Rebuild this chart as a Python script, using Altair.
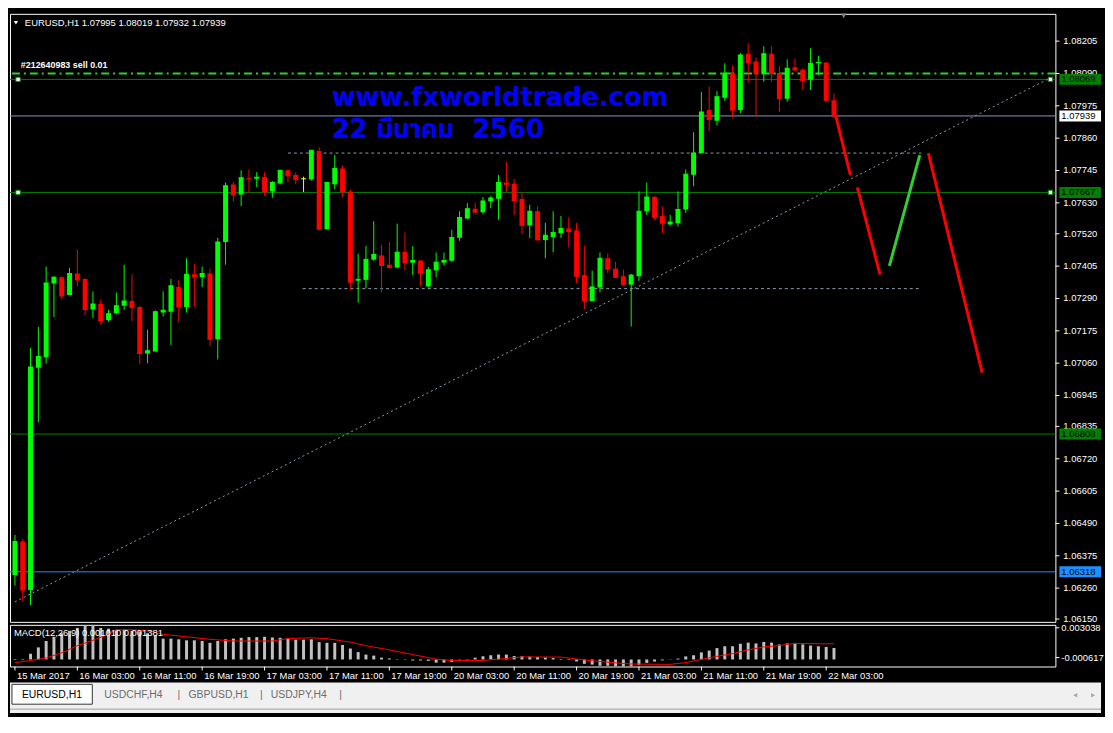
import altair as alt
import pandas as pd

# ---------------- data ----------------
time_labels = ["15 Mar 2017", "16 Mar 03:00", "16 Mar 11:00", "16 Mar 19:00",
               "17 Mar 03:00", "17 Mar 11:00", "17 Mar 19:00", "20 Mar 03:00",
               "20 Mar 11:00", "20 Mar 19:00", "21 Mar 03:00", "21 Mar 11:00",
               "21 Mar 19:00", "22 Mar 03:00"]
time_ticks = [0, 8, 16, 24, 32, 40, 48, 56, 64, 72, 80, 88, 96, 104]

price_ticks = [1.08205, 1.08090, 1.07975, 1.07860, 1.07745, 1.07630, 1.07520,
               1.07405, 1.07290, 1.07175, 1.07060, 1.06945, 1.06835, 1.06720,
               1.06605, 1.06490, 1.06375, 1.06260, 1.06150]

opens = [1.06307, 1.06426, 1.06253, 1.07044, 1.07081, 1.07343, 1.07365, 1.07302, 1.07379, 1.07359,
         1.07251, 1.07270, 1.07213, 1.07237, 1.07264, 1.07281, 1.07260, 1.07094, 1.07101, 1.07240,
         1.07243, 1.07331, 1.07260, 1.07376, 1.07365, 1.07379, 1.07145, 1.07491, 1.07695, 1.07660,
         1.07717, 1.07716, 1.07722, 1.07671, 1.07699, 1.07746, 1.07729, 1.07716, 1.07713, 1.07814,
         1.07536, 1.07696, 1.07752, 1.07670, 1.07353, 1.07356, 1.07428, 1.07443, 1.07410, 1.07400,
         1.07456, 1.07417, 1.07425, 1.07333, 1.07390, 1.07417, 1.07424, 1.07506, 1.07574, 1.07609,
         1.07597, 1.07635, 1.07645, 1.07702, 1.07698, 1.07644, 1.07549, 1.07600, 1.07498, 1.07508,
         1.07522, 1.07539, 1.07532, 1.07373, 1.07281, 1.07329, 1.07433, 1.07396, 1.07369, 1.07339,
         1.07369, 1.07600, 1.07651, 1.07583, 1.07553, 1.07557, 1.07606, 1.07730, 1.07807, 1.07960,
         1.07922, 1.08004, 1.08092, 1.07960, 1.08160, 1.08133, 1.08089, 1.08160, 1.08092, 1.08000,
         1.08112, 1.08102, 1.08068, 1.08126, 1.08129, 1.07995]
highs = [1.06449, 1.06435, 1.07114, 1.07189, 1.07403, 1.07369, 1.07369, 1.07399, 1.07464, 1.07362,
         1.07315, 1.07286, 1.07250, 1.07311, 1.07410, 1.07376, 1.07264, 1.07179, 1.07247, 1.07315,
         1.07359, 1.07355, 1.07433, 1.07413, 1.07403, 1.07396, 1.07505, 1.07702, 1.07705, 1.07746,
         1.07749, 1.07739, 1.07739, 1.07708, 1.07746, 1.07749, 1.07739, 1.07723, 1.07817, 1.07827,
         1.07702, 1.07800, 1.07763, 1.07677, 1.07449, 1.07477, 1.07565, 1.07481, 1.07491, 1.07556,
         1.07525, 1.07476, 1.07425, 1.07402, 1.07453, 1.07453, 1.07534, 1.07600, 1.07629, 1.07629,
         1.07651, 1.07654, 1.07729, 1.07776, 1.07715, 1.07668, 1.07623, 1.07617, 1.07559, 1.07600,
         1.07583, 1.07579, 1.07559, 1.07477, 1.07389, 1.07454, 1.07450, 1.07420, 1.07393, 1.07377,
         1.07671, 1.07702, 1.07654, 1.07617, 1.07587, 1.07671, 1.07749, 1.07881, 1.08024, 1.08044,
         1.08027, 1.08126, 1.08119, 1.08163, 1.08197, 1.08146, 1.08187, 1.08187, 1.08116, 1.08140,
         1.08143, 1.08109, 1.08180, 1.08153, 1.08129, 1.08019]
lows = [1.06269, 1.06211, 1.06200, 1.06850, 1.07058, 1.07224, 1.07288, 1.07302, 1.07333, 1.07231,
        1.07220, 1.07197, 1.07207, 1.07234, 1.07250, 1.07209, 1.07057, 1.07060, 1.07101, 1.07226,
        1.07124, 1.07206, 1.07240, 1.07260, 1.07331, 1.07121, 1.07073, 1.07410, 1.07635, 1.07618,
        1.07665, 1.07686, 1.07655, 1.07648, 1.07696, 1.07703, 1.07696, 1.07669, 1.07709, 1.07536,
        1.07536, 1.07679, 1.07652, 1.07319, 1.07275, 1.07326, 1.07424, 1.07312, 1.07397, 1.07397,
        1.07390, 1.07373, 1.07333, 1.07329, 1.07366, 1.07407, 1.07421, 1.07495, 1.07571, 1.07594,
        1.07590, 1.07611, 1.07570, 1.07668, 1.07586, 1.07518, 1.07505, 1.07498, 1.07433, 1.07454,
        1.07505, 1.07471, 1.07345, 1.07251, 1.07281, 1.07312, 1.07380, 1.07362, 1.07336, 1.07190,
        1.07353, 1.07587, 1.07570, 1.07523, 1.07550, 1.07546, 1.07594, 1.07689, 1.07807, 1.07885,
        1.07905, 1.07993, 1.07932, 1.07949, 1.08058, 1.07937, 1.08061, 1.08061, 1.07953, 1.07990,
        1.08099, 1.08031, 1.08031, 1.08085, 1.07990, 1.07932]
closes = [1.06426, 1.06253, 1.07046, 1.07084, 1.07345, 1.07365, 1.07299, 1.07379, 1.07356, 1.07251,
          1.07270, 1.07210, 1.07236, 1.07264, 1.07281, 1.07257, 1.07094, 1.07104, 1.07243, 1.07248,
          1.07335, 1.07260, 1.07376, 1.07366, 1.07379, 1.07145, 1.07491, 1.07691, 1.07660, 1.07719,
          1.07715, 1.07721, 1.07669, 1.07702, 1.07746, 1.07726, 1.07713, 1.07716, 1.07817, 1.07536,
          1.07702, 1.07752, 1.07670, 1.07348, 1.07358, 1.07429, 1.07446, 1.07407, 1.07400, 1.07454,
          1.07417, 1.07425, 1.07380, 1.07392, 1.07419, 1.07425, 1.07507, 1.07578, 1.07609, 1.07597,
          1.07637, 1.07647, 1.07702, 1.07696, 1.07637, 1.07549, 1.07600, 1.07498, 1.07515, 1.07525,
          1.07539, 1.07528, 1.07369, 1.07281, 1.07331, 1.07433, 1.07394, 1.07365, 1.07339, 1.07373,
          1.07600, 1.07651, 1.07579, 1.07557, 1.07562, 1.07606, 1.07732, 1.07807, 1.07953, 1.07926,
          1.08007, 1.08092, 1.07960, 1.08156, 1.08129, 1.08089, 1.08160, 1.08089, 1.08000, 1.08109,
          1.08102, 1.08065, 1.08126, 1.08129, 1.07995, 1.07939]

macd_main = [-0.00005, -0.00005, 0.00050, 0.00106, 0.00162, 0.00199, 0.00230, 0.00252, 0.00277, 0.00300,
             0.00303, 0.00277, 0.00270, 0.00261, 0.00261, 0.00252, 0.00245, 0.00230, 0.00214, 0.00183,
             0.00183, 0.00177, 0.00168, 0.00168, 0.00162, 0.00146, 0.00162, 0.00177, 0.00183, 0.00190,
             0.00196, 0.00196, 0.00199, 0.00193, 0.00190, 0.00183, 0.00174, 0.00174, 0.00177, 0.00152,
             0.00146, 0.00146, 0.00127, 0.00096, 0.00065, 0.00043, 0.00034, 0.00016, 0.00009, 0.00003,
             -0.00003, -0.00009, -0.00009, -0.00012, -0.00028, -0.00028, -0.00022, -0.00003, 0.00003, 0.00016,
             0.00028, 0.00037, 0.00043, 0.00043, 0.00030, 0.00028, 0.00025, 0.00022, 0.00018, 0.00012,
             0.00005, -0.00005, -0.00017, -0.00038, -0.00045, -0.00055, -0.00055, -0.00060, -0.00062, -0.00060,
             -0.00048, -0.00030, -0.00018, -0.00008, 0.00002, 0.00008, 0.00027, 0.00037, 0.00062, 0.00078,
             0.00100, 0.00116, 0.00116, 0.00138, 0.00148, 0.00141, 0.00154, 0.00148, 0.00132, 0.00141,
             0.00141, 0.00132, 0.00122, 0.00116, 0.00110, 0.00101]
signal_idx = [0, 2, 4, 6, 8, 10, 12, 13, 15, 17, 19, 22, 25, 28, 33, 35, 38, 40, 43, 45, 48,
              51, 54, 56, 60, 62, 65, 70, 73, 76, 79, 84, 86, 88, 90, 92, 94, 96, 98, 100, 103, 105]
signal_val = [-0.00028, -0.00009, 0.00012, 0.00059, 0.00121, 0.00168, 0.00221, 0.00261, 0.00261,
              0.00252, 0.00221, 0.00199, 0.00177, 0.00162, 0.00162, 0.00183, 0.00190, 0.00183,
              0.00152, 0.00121, 0.00084, 0.00043, 0.00003, -0.00009, -0.00009, 0.00003, 0.00022,
              0.00021, -0.00005, -0.00024, -0.00040, -0.00043, -0.00027, 0.00001, 0.00027, 0.00052,
              0.00084, 0.00110, 0.00122, 0.00141, 0.00138, 0.00138]
macd_scale_labels = ["0.003038", "-0.000617"]
macd_label_pos = [0.00278, 0.00017]

level_prices = [1.08069, 1.07939, 1.07667, 1.06808, 1.06318]
level_colors = ["#008000", "#8A96C8", "#008000", "#008000", "#1E90FF"]
box_fills = ["#008000", "#FFFFFF", "#008000", "#008000", "#1E90FF"]
order_price = 1.08090

dotted_k1 = [35.0, 36.9]
dotted_k2 = [116.2, 116.0]
dotted_p = [1.07807, 1.07325]
trend_k = [0.0, 132.5]
trend_p = [1.06211, 1.08071]

fc_k1 = [105.2, 108.0, 112.1, 117.1]
fc_p1 = [1.07943, 1.07685, 1.07406, 1.07807]
fc_k2 = [107.1, 110.9, 116.0, 124.0]
fc_p2 = [1.07729, 1.07376, 1.07800, 1.07026]
fc_col = ["#FF0000", "#FF0000", "#32CD32", "#FF0000"]

tab_text = ["EURUSD,H1", "USDCHF,H4", "|", "GBPUSD,H1", "|", "USDJPY,H4", "|"]
tab_x = [12, 95, 169, 180, 252, 263, 332]
tab_col = ["#000000", "#6D6D6D", "#6D6D6D", "#6D6D6D", "#6D6D6D", "#6D6D6D", "#6D6D6D"]

# ---------------- frames ----------------
idx = list(range(len(opens)))
cols = ["#00FF00" if c > o else ("#FF0000" if c < o else "#FFFF00") for o, c in zip(opens, closes)]
candles = pd.DataFrame({"k": idx, "o": opens, "h": highs, "l": lows, "c": closes, "col": cols})

W = 1054
H_MAIN = 613
H_MACD = 42
FONT = "Liberation Sans"

xs = alt.Scale(domain=[0, 132.75], nice=False, zero=False)
ys = alt.Scale(domain=[1.06140, 1.08302], nice=False, zero=False)
ms = alt.Scale(domain=[-0.000617, 0.003038], nice=False, zero=False)


def X(f):
    return alt.X(f, type="quantitative", scale=xs, axis=None)


def Y(f):
    return alt.Y(f, type="quantitative", scale=ys, axis=None)


def M(f):
    return alt.Y(f, type="quantitative", scale=ms, axis=None)


levels = pd.DataFrame({"p": level_prices, "col": level_colors, "fill": box_fills,
                       "t": ["%.5f" % v for v in level_prices]})
ticks_df = pd.DataFrame({"p": price_ticks, "t": ["%.5f" % v for v in price_ticks]})

# price scale (right)
p_ticks = alt.Chart(ticks_df).mark_rule(color="white", strokeWidth=1).encode(
    x=alt.value(W), x2=alt.value(W + 4), y=Y("p"))
p_labels = alt.Chart(ticks_df).mark_text(align="left", baseline="middle", font=FONT,
                                         fontSize=9.5, color="white").encode(
    x=alt.value(W + 8), y=Y("p"), text="t:N")

lvl_rules = alt.Chart(levels).mark_rule(strokeWidth=1).encode(
    y=Y("p"), color=alt.Color("col:N", scale=None))

order_rule = alt.Chart(pd.DataFrame({"p": [order_price]})).mark_rule(
    strokeWidth=2, strokeDash=[8, 4, 2, 4], color="#32CD32").encode(y=Y("p"))

dotted = alt.Chart(pd.DataFrame({"k1": dotted_k1, "k2": dotted_k2, "p": dotted_p})).mark_rule(
    strokeDash=[3, 3], color="#8C9BB0", strokeWidth=1).encode(x=X("k1"), x2="k2:Q", y=Y("p"))

trend = alt.Chart(pd.DataFrame({"k1": [trend_k[0]], "k2": [trend_k[1]],
                                "p1": [trend_p[0]], "p2": [trend_p[1]]})).mark_rule(
    strokeDash=[2, 3], color="#8C9BB0", strokeWidth=1, clip=True).encode(
    x=X("k1"), x2="k2:Q", y=Y("p1"), y2="p2:Q")

wicks = alt.Chart(candles).mark_rule(strokeWidth=1, clip=True).encode(
    x=X("k"), y=Y("l"), y2="h:Q", color=alt.Color("col:N", scale=None))
bodies = alt.Chart(candles).mark_bar(size=5, clip=True, opacity=1).encode(
    x=X("k"), y=Y("o"), y2="c:Q", color=alt.Color("col:N", scale=None))
close_ticks = alt.Chart(candles).mark_tick(orient="horizontal", size=5, thickness=1,
                                           opacity=1, clip=True).encode(
    x=X("k"), y=Y("c"), color=alt.Color("col:N", scale=None))

forecast = alt.Chart(pd.DataFrame({"k1": fc_k1, "k2": fc_k2, "p1": fc_p1, "p2": fc_p2,
                                   "col": fc_col})).mark_rule(strokeWidth=3).encode(
    x=X("k1"), x2="k2:Q", y=Y("p1"), y2="p2:Q", color=alt.Color("col:N", scale=None))

squares = alt.Chart(pd.DataFrame({"k": [0.4, 0.4, 132.75, 132.75],
                                  "p": [1.08069, 1.07667, 1.08069, 1.07667]})).mark_square(
    size=20, filled=True, color="white", stroke="#008000", strokeWidth=1, opacity=1).encode(
    x=X("k"), y=Y("p"))

site = alt.Chart(pd.DataFrame({"k": [40.6], "p": [1.07973], "t": ["www.fxworldtrade.com"]})).mark_text(
    align="left", baseline="alphabetic", font="DejaVu Sans", fontSize=26, fontWeight="bold",
    color="#0000FF").encode(x=X("k"), y=Y("p"), text="t:N")
date_txt = alt.Chart(pd.DataFrame({"k": [40.6], "p": [1.07861], "t": ["22 มีนาคม\u00a0\u00a02560"]})).mark_text(
    align="left", baseline="alphabetic", font="DejaVu Sans, Noto Sans Thai, sans-serif", fontSize=26,
    fontWeight="bold", color="#0000FF").encode(x=X("k"), y=Y("p"), text="t:N")

order_txt = alt.Chart(pd.DataFrame({"k": [0.75], "p": [1.08121], "t": ["#212640983 sell 0.01"]})).mark_text(
    align="left", baseline="middle", font=FONT, fontSize=9, fontWeight="bold", color="white").encode(
    x=X("k"), y=Y("p"), text="t:N")

title_txt = alt.Chart(pd.DataFrame({"t": ["EURUSD,H1  1.07995 1.08019 1.07932 1.07939"]})).mark_text(
    align="left", baseline="middle", font=FONT, fontSize=9.5, color="white").encode(
    x=alt.value(15), y=alt.value(9), text="t:N")
title_tri = alt.Chart(pd.DataFrame({"a": [1]})).mark_point(
    shape="triangle-down", size=18, filled=True, color="white", opacity=1).encode(
    x=alt.value(6), y=alt.value(9))
shift_tri = alt.Chart(pd.DataFrame({"k": [106.25]})).mark_point(
    shape="triangle-down", size=30, filled=True, color="#808080", opacity=1).encode(
    x=X("k"), y=alt.value(2))

boxes = alt.Chart(levels).mark_tick(orient="horizontal", size=42, thickness=11, opacity=1).encode(
    x=alt.value(W + 25), y=Y("p"), color=alt.Color("fill:N", scale=None))
box_txt = alt.Chart(levels).mark_text(align="left", baseline="middle", font=FONT, fontSize=9.5,
                                      color="black").encode(
    x=alt.value(W + 6), y=Y("p"), text="t:N")

main = alt.layer(lvl_rules, order_rule, dotted, trend, wicks, bodies, close_ticks, forecast,
                 squares, site, date_txt, order_txt, title_txt, title_tri, shift_tri,
                 p_ticks, p_labels, boxes, box_txt).properties(width=W, height=H_MAIN)

# ---------------- MACD panel ----------------
macd_df = pd.DataFrame({"k": idx, "v": macd_main})
sig_df = pd.DataFrame({"k": signal_idx, "v": signal_val})
tl_df = pd.DataFrame({"k": time_ticks, "t": time_labels})
ml_df = pd.DataFrame({"v": macd_label_pos, "t": macd_scale_labels})

hist = alt.Chart(macd_df).mark_bar(size=3, color="#C0C0C0", opacity=1).encode(
    x=X("k"), y=M("v"), y2=alt.datum(0))
sig = alt.Chart(sig_df).mark_line(color="#FF0000", strokeWidth=1).encode(x=X("k"), y=M("v"))
macd_lbl = alt.Chart(pd.DataFrame({"t": ["MACD(12,26,9) 0.001010 0.001381"]})).mark_text(
    align="left", baseline="middle", font=FONT, fontSize=9.5, color="white").encode(
    x=alt.value(4), y=alt.value(8), text="t:N")
m_ticks = alt.Chart(ml_df).mark_rule(color="white", strokeWidth=1).encode(
    x=alt.value(W), x2=alt.value(W + 4), y=M("v"))
m_labels = alt.Chart(ml_df).mark_text(align="left", baseline="middle", font=FONT, fontSize=9.5,
                                      color="white").encode(
    x=alt.value(W + 6), y=M("v"), text="t:N")

t_ticks = alt.Chart(tl_df).mark_rule(color="white", strokeWidth=1).encode(
    x=X("k"), y=alt.value(H_MACD), y2=alt.value(H_MACD + 4))
t_labels = alt.Chart(tl_df).mark_text(align="left", baseline="middle", font=FONT, fontSize=9.5,
                                      color="white", dx=2).encode(
    x=X("k"), y=alt.value(H_MACD + 10), text="t:N")

# tab bar below the time scale
bar_bg = alt.Chart(pd.DataFrame({"a": [1]})).mark_rect(color="#F0F0F0").encode(
    x=alt.value(0), x2=alt.value(1100), y=alt.value(58), y2=alt.value(89))
bar_line = alt.Chart(pd.DataFrame({"a": [1]})).mark_rule(color="#A0A0A0", strokeWidth=1).encode(
    x=alt.value(0), x2=alt.value(1100), y=alt.value(85))
tab_box = alt.Chart(pd.DataFrame({"a": [1]})).mark_rect(color="white", stroke="#333333",
                                                        strokeWidth=1).encode(
    x=alt.value(2), x2=alt.value(83), y=alt.value(60), y2=alt.value(80))
tabs = alt.Chart(pd.DataFrame({"tx": tab_x, "t": tab_text, "tc": tab_col})).mark_text(
    align="left", baseline="middle", font=FONT, fontSize=10.5).encode(
    x=alt.X("tx:Q", scale=None), y=alt.value(71), text="t:N", color=alt.Color("tc:N", scale=None))
arrows = alt.Chart(pd.DataFrame({"ax": [1074, 1092], "s": ["triangle-left", "triangle-right"]})).mark_point(
    size=22, filled=True, color="#A8A8A8", opacity=1).encode(
    x=alt.X("ax:Q", scale=None), y=alt.value(71), shape=alt.Shape("s:N", scale=None))

macd = alt.layer(hist, sig, macd_lbl, m_ticks, m_labels, t_ticks, t_labels,
                 bar_bg, bar_line, tab_box, tabs, arrows).properties(width=W, height=H_MACD)

chart = alt.vconcat(main, macd, spacing=3, bounds="flush").properties(
    background="black",
    padding={"left": 0, "right": 0, "top": 2, "bottom": 0},
).configure_view(stroke="white", strokeWidth=1)

chart.save("out.html", embed_options={"renderer": "svg", "actions": False})
